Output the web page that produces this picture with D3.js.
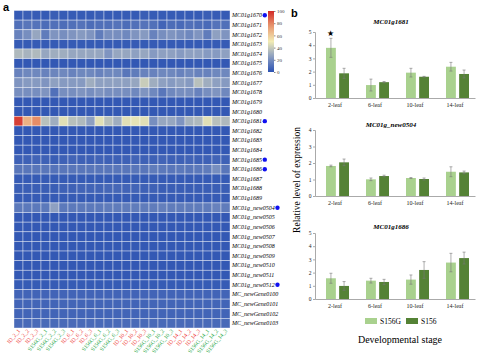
<!DOCTYPE html>
<html>
<head>
<meta charset="utf-8">
<script src="https://cdn.jsdelivr.net/npm/d3@7"></script>
<style>
  body { margin: 0; background: #fff; }
  svg { display: block; }
</style>
</head>
<body>
<svg id="chart"></svg>
<script>
// heatmap columns: stage_replicate for the two lines
const stages = ["2", "6", "10", "14"];
const reps = ["1", "2", "3"];
const colLabels = [];
stages.forEach(s => {
  reps.forEach(r => colLabels.push({ name: `ID_${s}_${r}`, grp: "a" }));
  reps.forEach(r => colLabels.push({ name: `S156G_${s}_${r}`, grp: "b" }));
});

const rowLabels = [
  "MC01g1670", "MC01g1671", "MC01g1672", "MC01g1673", "MC01g1674", "MC01g1675",
  "MC01g1676", "MC01g1677", "MC01g1678", "MC01g1679", "MC01g1680", "MC01g1681",
  "MC01g1682", "MC01g1683", "MC01g1684", "MC01g1685", "MC01g1686", "MC01g1687",
  "MC01g1688", "MC01g1689", "MC01g_new0504", "MC01g_new0505", "MC01g_new0506",
  "MC01g_new0507", "MC01g_new0508", "MC01g_new0509", "MC01g_new0510",
  "MC01g_new0511", "MC01g_new0512", "MC_newGene0100", "MC_newGene0101",
  "MC_newGene0102", "MC_newGene0103"
];
const markedRows = ["MC01g1670", "MC01g1681", "MC01g1685", "MC01g1686", "MC01g_new0504", "MC01g_new0512"];

// one list of 24 values per gene (0-100)
const heatValues = [
  [3,4,3,3,4,3,3,3,3,4,3,3,3,3,4,3,3,3,3,3,3,4,3,3],
  [10,12,11,9,10,9,10,11,9,10,10,11,9,10,11,10,6,9,8,10,9,8,11,10],
  [16,20,28,14,22,20,22,24,22,14,20,20,18,22,24,16,20,22,20,18,22,14,26,22],
  [3,3,3,3,3,3,3,3,3,3,3,3,3,3,3,3,3,3,3,3,3,3,3,3],
  [34,32,34,28,30,30,28,28,28,28,22,28,28,26,28,24,26,26,24,26,26,24,24,26],
  [2,2,2,2,2,2,2,2,2,2,2,2,2,2,2,2,2,2,2,2,2,2,2,2],
  [16,18,18,16,17,18,16,18,18,16,18,18,12,14,16,16,18,18,16,18,16,16,18,18],
  [22,24,24,22,26,24,24,24,30,26,26,26,26,28,40,30,26,24,26,24,36,30,26,24],
  [20,20,20,22,10,20,20,22,20,22,20,20,20,18,22,18,12,18,20,20,16,20,22,18],
  [2,2,2,2,2,2,2,2,2,2,2,2,2,2,2,2,2,2,2,2,2,2,2,2],
  [2,2,2,2,2,2,2,2,2,2,2,2,2,2,2,2,2,2,2,2,2,2,2,2],
  [95,68,78,36,30,46,36,34,26,46,36,30,46,47,46,20,28,28,22,32,34,46,36,34],
  [2,2,2,2,2,2,2,2,2,2,2,2,2,2,2,2,2,2,2,2,2,2,2,2],
  [2,2,2,2,2,2,2,2,2,2,2,2,2,2,2,2,2,2,2,2,2,2,2,2],
  [2,2,2,2,2,2,2,2,2,2,2,2,2,2,2,2,2,2,2,2,2,2,2,2],
  [5,5,6,5,4,5,6,5,5,6,5,5,5,6,5,5,6,5,5,6,5,5,6,5],
  [12,12,12,12,11,12,12,12,12,12,12,12,12,12,12,14,13,12,13,12,13,14,20,12],
  [3,3,3,3,3,3,3,3,3,3,3,3,3,3,3,3,3,3,3,3,3,3,3,3],
  [4,4,4,4,4,5,5,6,6,6,7,7,6,6,5,5,4,4,4,4,4,4,4,4],
  [3,3,3,3,3,3,3,3,3,3,3,3,3,3,3,3,3,3,3,3,3,3,3,3],
  [13,13,13,13,26,13,13,13,13,13,14,14,14,14,14,14,15,14,14,14,14,14,16,14],
  [2,2,2,2,2,2,2,2,2,2,2,2,2,2,2,2,2,2,2,2,2,2,2,2],
  [2,2,2,2,2,2,2,2,2,2,2,2,2,2,2,2,2,2,2,2,2,2,2,2],
  [2,2,2,2,2,2,2,2,2,2,2,2,2,2,2,2,2,2,2,2,2,2,2,2],
  [2,2,2,2,2,2,2,2,2,2,2,2,2,2,2,2,2,2,2,2,2,2,2,2],
  [2,2,2,2,2,2,2,2,2,2,2,2,2,2,2,2,2,2,2,2,2,2,2,2],
  [2,2,2,2,2,2,2,2,2,2,2,2,2,2,2,2,2,2,2,2,2,2,2,2],
  [2,2,2,2,2,2,2,2,2,2,2,2,2,2,2,2,2,2,2,2,2,2,2,2],
  [3,3,3,3,3,3,3,3,3,3,3,3,3,3,3,3,3,3,3,3,3,3,3,3],
  [6,6,6,6,6,6,6,6,6,6,6,6,6,6,6,6,6,6,6,6,6,6,6,6],
  [6,6,6,6,6,6,6,6,6,6,6,6,6,6,6,6,6,6,6,6,6,6,6,6],
  [6,6,6,6,6,6,6,6,6,6,6,6,6,6,6,6,6,6,6,6,6,6,6,6],
  [8,8,8,8,8,8,8,8,8,8,8,8,8,8,8,8,8,8,8,8,8,8,8,8]
];
const colorTicks = [0, 20, 40, 60, 80, 100];

// bar panels
const leafStages = ["2-leaf", "6-leaf", "10-leaf", "14-leaf"];
const lines = ["S156G", "S156"];
const panelGenes = ["MC01g1681", "MC01g_new0504", "MC01g1686"];
const panelMax = [5, 4, 5];
const s156gVals = [[3.8, 0.98, 1.92, 2.37], [1.82, 1.01, 1.09, 1.47], [1.57, 1.39, 1.47, 2.76]];
const s156gErr  = [[0.72, 0.45, 0.33, 0.33], [0.05, 0.08, 0.03, 0.3], [0.38, 0.18, 0.35, 0.7]];
const s156Vals  = [[1.87, 1.2, 1.61, 1.82], [2.04, 1.21, 1.03, 1.43], [0.99, 1.29, 2.2, 3.1]];
const s156Err   = [[0.38, 0.05, 0.03, 0.3], [0.2, 0.05, 0.06, 0.08], [0.33, 0.2, 0.63, 0.45]];

const W = 492, H = 363;
const serif = "'Liberation Serif', 'Times New Roman', serif";
const svg = d3.select("#chart").attr("width", W).attr("height", H);

// ---------- panel a: heatmap ----------
const hx = d3.scaleBand().domain(d3.range(colLabels.length)).range([14, 230]);
const hy = d3.scaleBand().domain(rowLabels).range([10.5, 328]);
const color = d3.scaleLinear()
  .domain([0, 25, 50, 75, 100])
  .range(["#2b52b3", "#8a9dc2", "#f2ecb4", "#e99a70", "#d22a26"]);

const cells = [];
heatValues.forEach((row, i) => row.forEach((v, j) => cells.push({ r: rowLabels[i], c: j, v })));

svg.append("g").selectAll("rect")
  .data(cells).join("rect")
  .attr("x", d => hx(d.c))
  .attr("y", d => hy(d.r))
  .attr("width", hx.bandwidth())
  .attr("height", hy.bandwidth())
  .attr("fill", d => color(d.v))
  .attr("stroke", "#fff")
  .attr("stroke-opacity", 0.55)
  .attr("stroke-width", 0.7);

// row labels
const rowG = svg.append("g");
rowG.selectAll("text")
  .data(rowLabels).join("text")
  .attr("x", 232)
  .attr("y", d => hy(d) + hy.bandwidth() / 2 + 2)
  .style("font-family", serif)
  .style("font-style", "italic")
  .style("font-size", "6px")
  .text(d => d)
  .each(function(d) {
    if (markedRows.includes(d)) {
      const bb = this.getBBox();
      rowG.append("circle")
        .attr("cx", bb.x + bb.width + 2.8)
        .attr("cy", hy(d) + hy.bandwidth() / 2)
        .attr("r", 2.2)
        .attr("fill", "#1010f0");
    }
  });

// column labels
svg.append("g").selectAll("text")
  .data(colLabels).join("text")
  .attr("transform", (d, i) => `translate(${hx(i) + hx.bandwidth() / 2 + 2},${331}) rotate(-50)`)
  .attr("text-anchor", "end")
  .style("font-family", serif)
  .style("font-size", "5.6px")
  .attr("fill", d => d.grp === "a" ? "#ee3a3a" : "#2aa84a")
  .text(d => d.name);

// colour bar
const cbY = d3.scaleLinear().domain([0, 100]).range([72, 11]);
const defs = svg.append("defs");
const grad = defs.append("linearGradient").attr("id", "cb")
  .attr("x1", 0).attr("y1", 1).attr("x2", 0).attr("y2", 0);
d3.range(0, 101, 10).forEach(v => {
  grad.append("stop").attr("offset", v / 100).attr("stop-color", color(v));
});
svg.append("rect")
  .attr("x", 268).attr("y", cbY(100))
  .attr("width", 6).attr("height", cbY(0) - cbY(100))
  .attr("fill", "url(#cb)");
const cbAxis = svg.append("g")
  .attr("transform", "translate(274,0)")
  .call(d3.axisRight(cbY).tickValues(colorTicks).tickSize(1.5).tickPadding(1.5));
cbAxis.select(".domain").remove();
cbAxis.selectAll("line").attr("stroke", "#888");
cbAxis.selectAll("text").style("font-family", serif).style("font-size", "5px").attr("fill", "#333");

// panel letters
svg.append("text").attr("x", 3).attr("y", 11)
  .style("font-family", "Arial, 'Liberation Sans', sans-serif").style("font-weight", "bold")
  .style("font-size", "11px").text("a");
svg.append("text").attr("x", 291).attr("y", 17)
  .style("font-family", "Arial, 'Liberation Sans', sans-serif").style("font-weight", "bold")
  .style("font-size", "11px").text("b");

// ---------- panel b: bar charts ----------
const bx = d3.scaleBand().domain(leafStages).range([315, 475]);
const sub = d3.scaleBand().domain(lines).range([11, 34]).paddingInner(0.25);
const barColor = { S156G: "#a9d18e", S156: "#548235" };
const panelY = [[98, 32], [196, 130], [299, 233]];
const titleY = [24, 127, 229];

panelGenes.forEach((gene, p) => {
  const y = d3.scaleLinear().domain([0, panelMax[p]]).range(panelY[p]);
  const g = svg.append("g");

  const bars = [];
  leafStages.forEach((st, i) => {
    bars.push({ st, line: "S156G", v: s156gVals[p][i], e: s156gErr[p][i] });
    bars.push({ st, line: "S156", v: s156Vals[p][i], e: s156Err[p][i] });
  });

  g.selectAll("rect").data(bars).join("rect")
    .attr("x", d => bx(d.st) + sub(d.line))
    .attr("y", d => y(d.v))
    .attr("width", sub.bandwidth())
    .attr("height", d => y(0) - y(d.v))
    .attr("fill", d => barColor[d.line]);

  // error bars
  const eb = g.append("g").attr("stroke", "#777").attr("stroke-width", 0.6);
  bars.forEach(d => {
    const cx = bx(d.st) + sub(d.line) + sub.bandwidth() / 2;
    eb.append("line").attr("x1", cx).attr("x2", cx).attr("y1", y(d.v - d.e)).attr("y2", y(d.v + d.e));
    eb.append("line").attr("x1", cx - 1.5).attr("x2", cx + 1.5).attr("y1", y(d.v + d.e)).attr("y2", y(d.v + d.e));
    eb.append("line").attr("x1", cx - 1.5).attr("x2", cx + 1.5).attr("y1", y(d.v - d.e)).attr("y2", y(d.v - d.e));
  });

  const yAxis = g.append("g").attr("transform", "translate(315,0)")
    .call(d3.axisLeft(y).ticks(panelMax[p]).tickSize(2).tickPadding(1.5));
  yAxis.selectAll("path,line").attr("stroke", "#aaa");
  yAxis.selectAll("text").style("font-family", serif).style("font-size", "5.5px").attr("fill", "#222");

  const xAxis = g.append("g").attr("transform", `translate(0,${y(0)})`)
    .call(d3.axisBottom(bx).tickSize(0).tickPadding(5));
  xAxis.select(".domain").attr("stroke", "#aaa");
  xAxis.selectAll("text").style("font-family", serif).style("font-size", "6px").attr("fill", "#222");

  g.append("text").attr("x", 391).attr("y", titleY[p])
    .attr("text-anchor", "middle")
    .style("font-family", serif).style("font-style", "italic").style("font-weight", "bold")
    .style("font-size", "7px").text(gene);

  if (p === 0) {
    g.append("text")
      .attr("x", bx("2-leaf") + sub("S156G") + sub.bandwidth() / 2)
      .attr("y", y(s156gVals[0][0] + s156gErr[0][0]) - 2)
      .attr("text-anchor", "middle")
      .style("font-size", "8px").text("\u2605");
  }
});

// shared y title
svg.append("text")
  .attr("transform", "translate(300,180) rotate(-90)")
  .attr("text-anchor", "middle")
  .style("font-family", serif).style("font-size", "9.5px")
  .text("Relative level of expression");

// legend
const legend = svg.append("g").attr("transform", "translate(365,318)");
lines.forEach((l, i) => {
  const lg = legend.append("g").attr("transform", `translate(${i * 41},0)`);
  lg.append("rect").attr("width", 12).attr("height", 6).attr("fill", barColor[l]);
  lg.append("text").attr("x", 15).attr("y", 6)
    .style("font-family", serif).style("font-size", "7.5px").text(l);
});

svg.append("text")
  .attr("x", 400).attr("y", 343)
  .attr("text-anchor", "middle")
  .style("font-family", serif).style("font-size", "10px")
  .text("Developmental stage");
</script>
</body>
</html>
